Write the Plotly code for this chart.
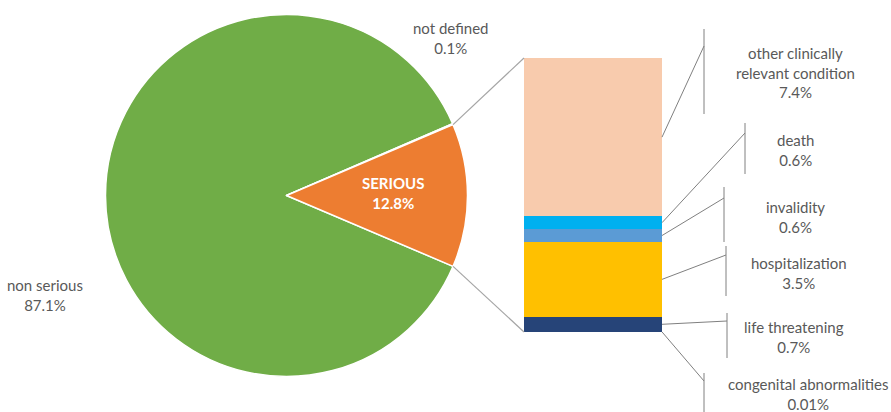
import math
import plotly.graph_objects as go

# Figure size (px)
W, H = 891, 412

# Main pie data
pie_labels = ["non serious", "not defined", "SERIOUS"]
pie_values = [87.1, 0.1, 12.8]
pie_colors = ["#70AD47", "#ED7D31", "#ED7D31"]

# Breakdown of the SERIOUS slice, stacked bottom to top
sub_labels = ["congenital abnormalities", "life threatening", "hospitalization",
              "invalidity", "death", "other clinically<br>relevant condition"]
sub_values = [0.01, 0.7, 3.5, 0.6, 0.6, 7.4]
sub_colors = ["#C55A11", "#264478", "#FFC000", "#5B9BD5", "#00B0F0", "#F8CBAD"]

FONT = "Lato"
FSIZE = 15
TXT = "#595959"
GRID = "#A5A5A5"
LEAD = "#808080"

# Layout geometry in pixels
pie_cx, pie_cy, pie_r = 286.5, 195.5, 181.0
bar_x0, bar_x1, bar_top, bar_bot = 524, 662, 58, 332

# leader brackets for the bar labels, same order as sub_labels:
# (bracket x, join y, bracket top, bracket bottom, text x, text y)
leaders = [
    (704, 381, 373, 420, 808, 394),
    (727, 321, 313, 358, 794, 337),
    (726, 255, 246, 296, 799, 273),
    (724, 198, 187, 242, 795, 216.5),
    (745, 133, 123, 174, 795, 150),
    (704, 46, 29, 114, 795, 72),
]
# pie label positions, same order as pie_labels
pie_label_pos = [(45, 294.5), (450, 37.5), (393, 193)]


def px(x):
    return x / W


def py(y):
    return 1 - y / H


serious_idx = pie_labels.index("SERIOUS")
pie_total = sum(pie_values)
serious_share = pie_values[serious_idx] / pie_total
# rotate so the SERIOUS slice is centred on the right-hand side
rotation = 90 + 360 * serious_share / 2
sub_total = sum(sub_values)

fig = go.Figure()

fig.add_trace(go.Pie(
    labels=pie_labels,
    values=pie_values,
    sort=False,
    direction="clockwise",
    rotation=rotation,
    marker=dict(colors=pie_colors, line=dict(color="white", width=1.5)),
    textinfo="none",
    hoverinfo="label+percent",
    showlegend=False,
    domain=dict(x=[px(pie_cx - pie_r), px(pie_cx + pie_r)],
                y=[py(pie_cy + pie_r), py(pie_cy - pie_r)]),
))

for lab, val, col in zip(sub_labels, sub_values, sub_colors):
    fig.add_trace(go.Bar(
        x=["SERIOUS"], y=[val], name=lab.replace("<br>", " "),
        marker=dict(color=col,
                    line=dict(color=col, width=1.5 if val < 0.1 else 0)),
        showlegend=False, xaxis="x", yaxis="y",
    ))

shapes = []
# connector lines from the edges of the SERIOUS slice to the stacked bar
half = math.pi * serious_share
for ang, bar_y in ((math.pi / 2 - half, bar_top), (math.pi / 2 + half, bar_bot)):
    ex = pie_cx + pie_r * math.sin(ang)
    ey = pie_cy - pie_r * math.cos(ang)
    shapes.append(dict(type="line", xref="paper", yref="paper",
                       x0=px(ex), y0=py(ey), x1=px(bar_x0), y1=py(bar_y),
                       line=dict(color=GRID, width=1.2)))

annotations = []
cum = 0.0
for lab, val, (bx, jy, t0, t1, tx, ty) in zip(sub_labels, sub_values, leaders):
    mid = cum + val / 2
    cum += val
    ay = bar_bot - mid / sub_total * (bar_bot - bar_top)
    shapes.append(dict(type="line", xref="paper", yref="paper",
                       x0=px(bar_x1), y0=py(ay), x1=px(bx), y1=py(jy),
                       line=dict(color=LEAD, width=1)))
    shapes.append(dict(type="line", xref="paper", yref="paper",
                       x0=px(bx), y0=py(t0), x1=px(bx), y1=py(t1),
                       line=dict(color=LEAD, width=1)))
    annotations.append(dict(
        x=px(tx), y=py(ty), xref="paper", yref="paper",
        text=f"{lab}<br>{val:g}%", showarrow=False,
        xanchor="center", yanchor="middle", align="center",
        font=dict(family=FONT, size=FSIZE, color=TXT)))

for lab, val, (tx, ty) in zip(pie_labels, pie_values, pie_label_pos):
    is_serious = lab == "SERIOUS"
    text = f"<b>{lab}<br>{val:g}%</b>" if is_serious else f"{lab}<br>{val:g}%"
    annotations.append(dict(
        x=px(tx), y=py(ty), xref="paper", yref="paper",
        text=text, showarrow=False,
        xanchor="center", yanchor="middle", align="center",
        font=dict(family=FONT, size=FSIZE,
                  color="white" if is_serious else TXT)))

fig.update_layout(
    width=W, height=H,
    margin=dict(l=0, r=0, t=0, b=0),
    paper_bgcolor="white", plot_bgcolor="white",
    barmode="stack", bargap=0,
    xaxis=dict(domain=[px(bar_x0), px(bar_x1)], range=[-0.5, 0.5],
               visible=False, fixedrange=True),
    yaxis=dict(domain=[py(bar_bot), py(bar_top)], range=[0, sub_total],
               visible=False, fixedrange=True),
    shapes=shapes,
    annotations=annotations,
)

fig.write_html("out.html")
